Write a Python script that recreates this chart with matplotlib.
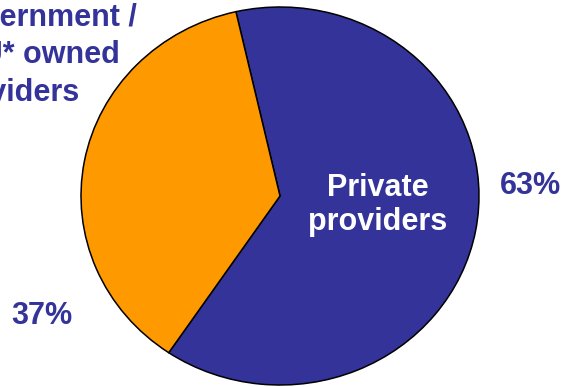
import matplotlib
matplotlib.use("Agg")
import matplotlib.pyplot as plt

labels = ["Private providers", "Government / PSU* owned providers"]
shares = [63, 37]
pct_labels = ["63%", "37%"]

BLUE = "#333399"
ORANGE = "#FF9900"
W, H = 563, 387

plt.rcParams.update({"font.family": ["Liberation Sans", "DejaVu Sans"], "font.weight": "bold"})

fig = plt.figure(figsize=(W / 100, H / 100), dpi=100)
ax = fig.add_axes([0, 0, 1, 1])
ax.pie(shares, colors=[BLUE, ORANGE], startangle=102.8, counterclock=False,
       wedgeprops=dict(edgecolor="black", linewidth=1.1))
# the slide stretched the pie slightly wider than tall
ax.set_aspect("auto")
ax.set_xlim(-280 / 199, (W - 280) / 199)
ax.set_ylim(-(H - 196) / 189, 196 / 189)


def px(x, y):
    return x / W, 1 - y / H


FS = 22
ax.text(*px(378, 205), "Private\nproviders", transform=ax.transAxes, ha="center",
        va="center", fontsize=FS, color="white", linespacing=1.19)
ax.text(*px(530, 186), pct_labels[0], transform=ax.transAxes, ha="center",
        va="center", fontsize=FS, color=BLUE)
ax.text(*px(42, 316), pct_labels[1], transform=ax.transAxes, ha="center",
        va="center", fontsize=FS, color=BLUE)
# label box is cropped at the left edge of the slide, as in the original
ax.text(*px(-60, 55), "Government /\nPSU* owned\nproviders", transform=ax.transAxes,
        ha="left", va="center", fontsize=FS, color=BLUE, linespacing=1.34)

fig.savefig("out.png", dpi=100, facecolor="white")
